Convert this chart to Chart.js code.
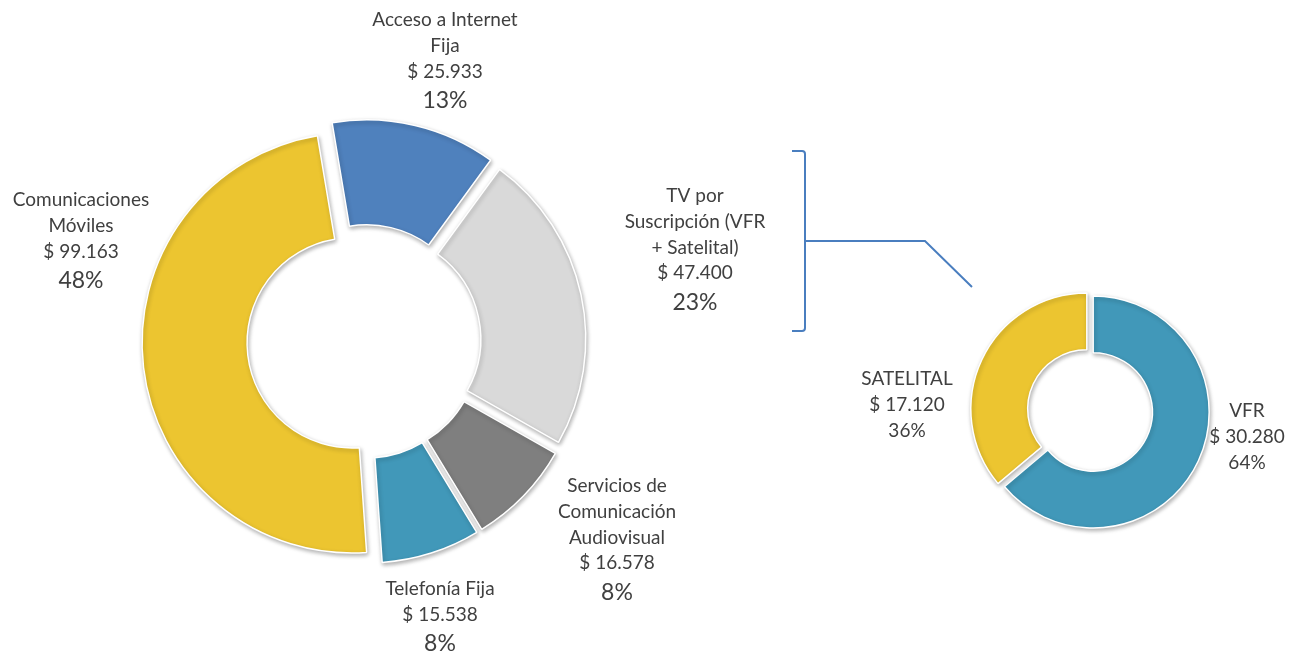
<!DOCTYPE html>
<html lang="es">
<head>
<meta charset="utf-8">
<title>Ingresos por servicio</title>
<script src="https://cdn.jsdelivr.net/npm/chart.js@4.4.1/dist/chart.umd.min.js"></script>
<style>
  html, body { margin: 0; padding: 0; background: #fff; }
  #wrap { position: relative; width: 1307px; height: 655px; }
  #wrap canvas { position: absolute; left: 0; top: 0; }
</style>
</head>
<body>
<div id="wrap">
  <canvas id="mainChart" width="1307" height="655"></canvas>
  <canvas id="tvChart" width="1307" height="655"></canvas>
</div>
<script>
// Ingresos por servicio
const servicios = ['Acceso a Internet Fija', 'TV por Suscripción (VFR + Satelital)', 'Servicios de Comunicación Audiovisual', 'Telefonía Fija', 'Comunicaciones Móviles'];
const ingresos = [25933, 47400, 16578, 15538, 99163];
const coloresServicios = ['#4F81BD', '#D9D9D9', '#7F7F7F', '#4198B9', '#ECC530'];

// Detalle de TV por suscripcion
const tvTipos = ['VFR', 'SATELITAL'];
const tvIngresos = [30280, 17120];
const coloresTv = ['#4198B9', '#ECC530'];

// lineas de texto de cada etiqueta, cortadas como en el original
const lineasServicios = [['Acceso a Internet', 'Fija'], ['TV por', 'Suscripción (VFR', '+ Satelital)'], ['Servicios de', 'Comunicación', 'Audiovisual'], ['Telefonía Fija'], ['Comunicaciones', 'Móviles']];
const lineasTv = [['VFR'], ['SATELITAL']];

function miles(v) {
    return String(v).replace(/\B(?=(\d{3})+(?!\d))/g, '.');
}

// separa cada porcion del centro (como "explosion" de Excel) y le pone sombra
const explotar = {
    id: 'explotar',
    beforeDatasetDraw(chart, args, opts) {
        const a = chart.chartArea;
        const cx = (a.left + a.right) / 2;
        const cy = (a.top + a.bottom) / 2;
        args.meta.data.forEach(arc => {
            const mid = (arc.startAngle + arc.endAngle) / 2;
            arc.x = cx + Math.cos(mid) * opts.distancia;
            arc.y = cy + Math.sin(mid) * opts.distancia;
        });
        const ctx = chart.ctx;
        ctx.save();
        ctx.shadowColor = 'rgba(0,0,0,0.30)';
        ctx.shadowBlur = 4;
        ctx.shadowOffsetX = 1;
        ctx.shadowOffsetY = 2;
    },
    afterDatasetDraw(chart) {
        chart.ctx.restore();
    }
};

const etiquetas = {
    id: 'etiquetas',
    afterDraw(chart, args, opts) {
        const ctx = chart.ctx;
        const datos = chart.data.datasets[0].data;
        const total = datos.reduce((s, v) => s + v, 0);
        ctx.save();
        ctx.fillStyle = '#404040';
        ctx.textAlign = 'center';
        ctx.textBaseline = 'middle';
        opts.lineas.forEach((lineas, i) => {
            const [x, y] = opts.posiciones[i];
            let yy = y;
            ctx.font = opts.fuente;
            lineas.forEach(t => {
                ctx.fillText(t, x, yy);
                yy += opts.interlineado;
            });
            ctx.fillText('$ ' + miles(datos[i]), x, yy);
            yy += opts.saltoPct;
            ctx.font = opts.fuentePct;
            ctx.fillText(Math.round(datos[i] / total * 100) + '%', x, yy);
        });
        ctx.restore();
    }
};

// llave y conector entre TV por suscripcion y el detalle
const llave = {
    id: 'llave',
    afterDraw(chart) {
        const ctx = chart.ctx;
        ctx.save();
        ctx.strokeStyle = '#4A7EBF';
        ctx.lineWidth = 2;
        ctx.beginPath();
        ctx.moveTo(792, 151);
        ctx.lineTo(802, 151);
        ctx.quadraticCurveTo(805, 151, 805, 154);
        ctx.lineTo(805, 328);
        ctx.quadraticCurveTo(805, 331, 802, 331);
        ctx.lineTo(792, 331);
        ctx.stroke();
        ctx.beginPath();
        ctx.moveTo(805, 241);
        ctx.lineTo(925, 241);
        ctx.lineTo(972, 287);
        ctx.stroke();
        ctx.restore();
    }
};

const ctx1 = document.getElementById('mainChart').getContext('2d');
const mainChart = new Chart(ctx1, {
    type: 'doughnut',
    data: {
        labels: servicios,
        datasets: [{
            data: ingresos,
            backgroundColor: coloresServicios,
            borderColor: '#ffffff',
            borderWidth: 1.5
        }]
    },
    options: {
        responsive: false,
        animation: false,
        radius: 210,
        cutout: '50%',
        rotation: -9.5,
        layout: { padding: { left: 0, right: 579, top: 28, bottom: 0 } },
        plugins: {
            legend: { display: false },
            tooltip: { enabled: false },
            explotar: { distancia: 12 },
            etiquetas: {
                lineas: lineasServicios,
                posiciones: [[445, 20], [695, 196], [617, 486], [440, 589], [81, 200]],
                fuente: '19px Lato',
                fuentePct: '23px Lato',
                interlineado: 25.7,
                saltoPct: 29
            }
        }
    },
    plugins: [explotar, etiquetas]
});

const ctx2 = document.getElementById('tvChart').getContext('2d');
const tvChart = new Chart(ctx2, {
    type: 'doughnut',
    data: {
        labels: tvTipos,
        datasets: [{
            data: tvIngresos,
            backgroundColor: coloresTv,
            borderColor: '#ffffff',
            borderWidth: 1.5
        }]
    },
    options: {
        responsive: false,
        animation: false,
        radius: 116,
        cutout: '51%',
        rotation: 0,
        layout: { padding: { left: 873, right: 0, top: 166, bottom: 0 } },
        plugins: {
            legend: { display: false },
            tooltip: { enabled: false },
            explotar: { distancia: 3.5 },
            etiquetas: {
                lineas: lineasTv,
                posiciones: [[1247, 411], [907, 379]],
                fuente: '19px Lato',
                fuentePct: '19px Lato',
                interlineado: 26,
                saltoPct: 26
            }
        }
    },
    plugins: [explotar, etiquetas, llave]
});
</script>
</body>
</html>
